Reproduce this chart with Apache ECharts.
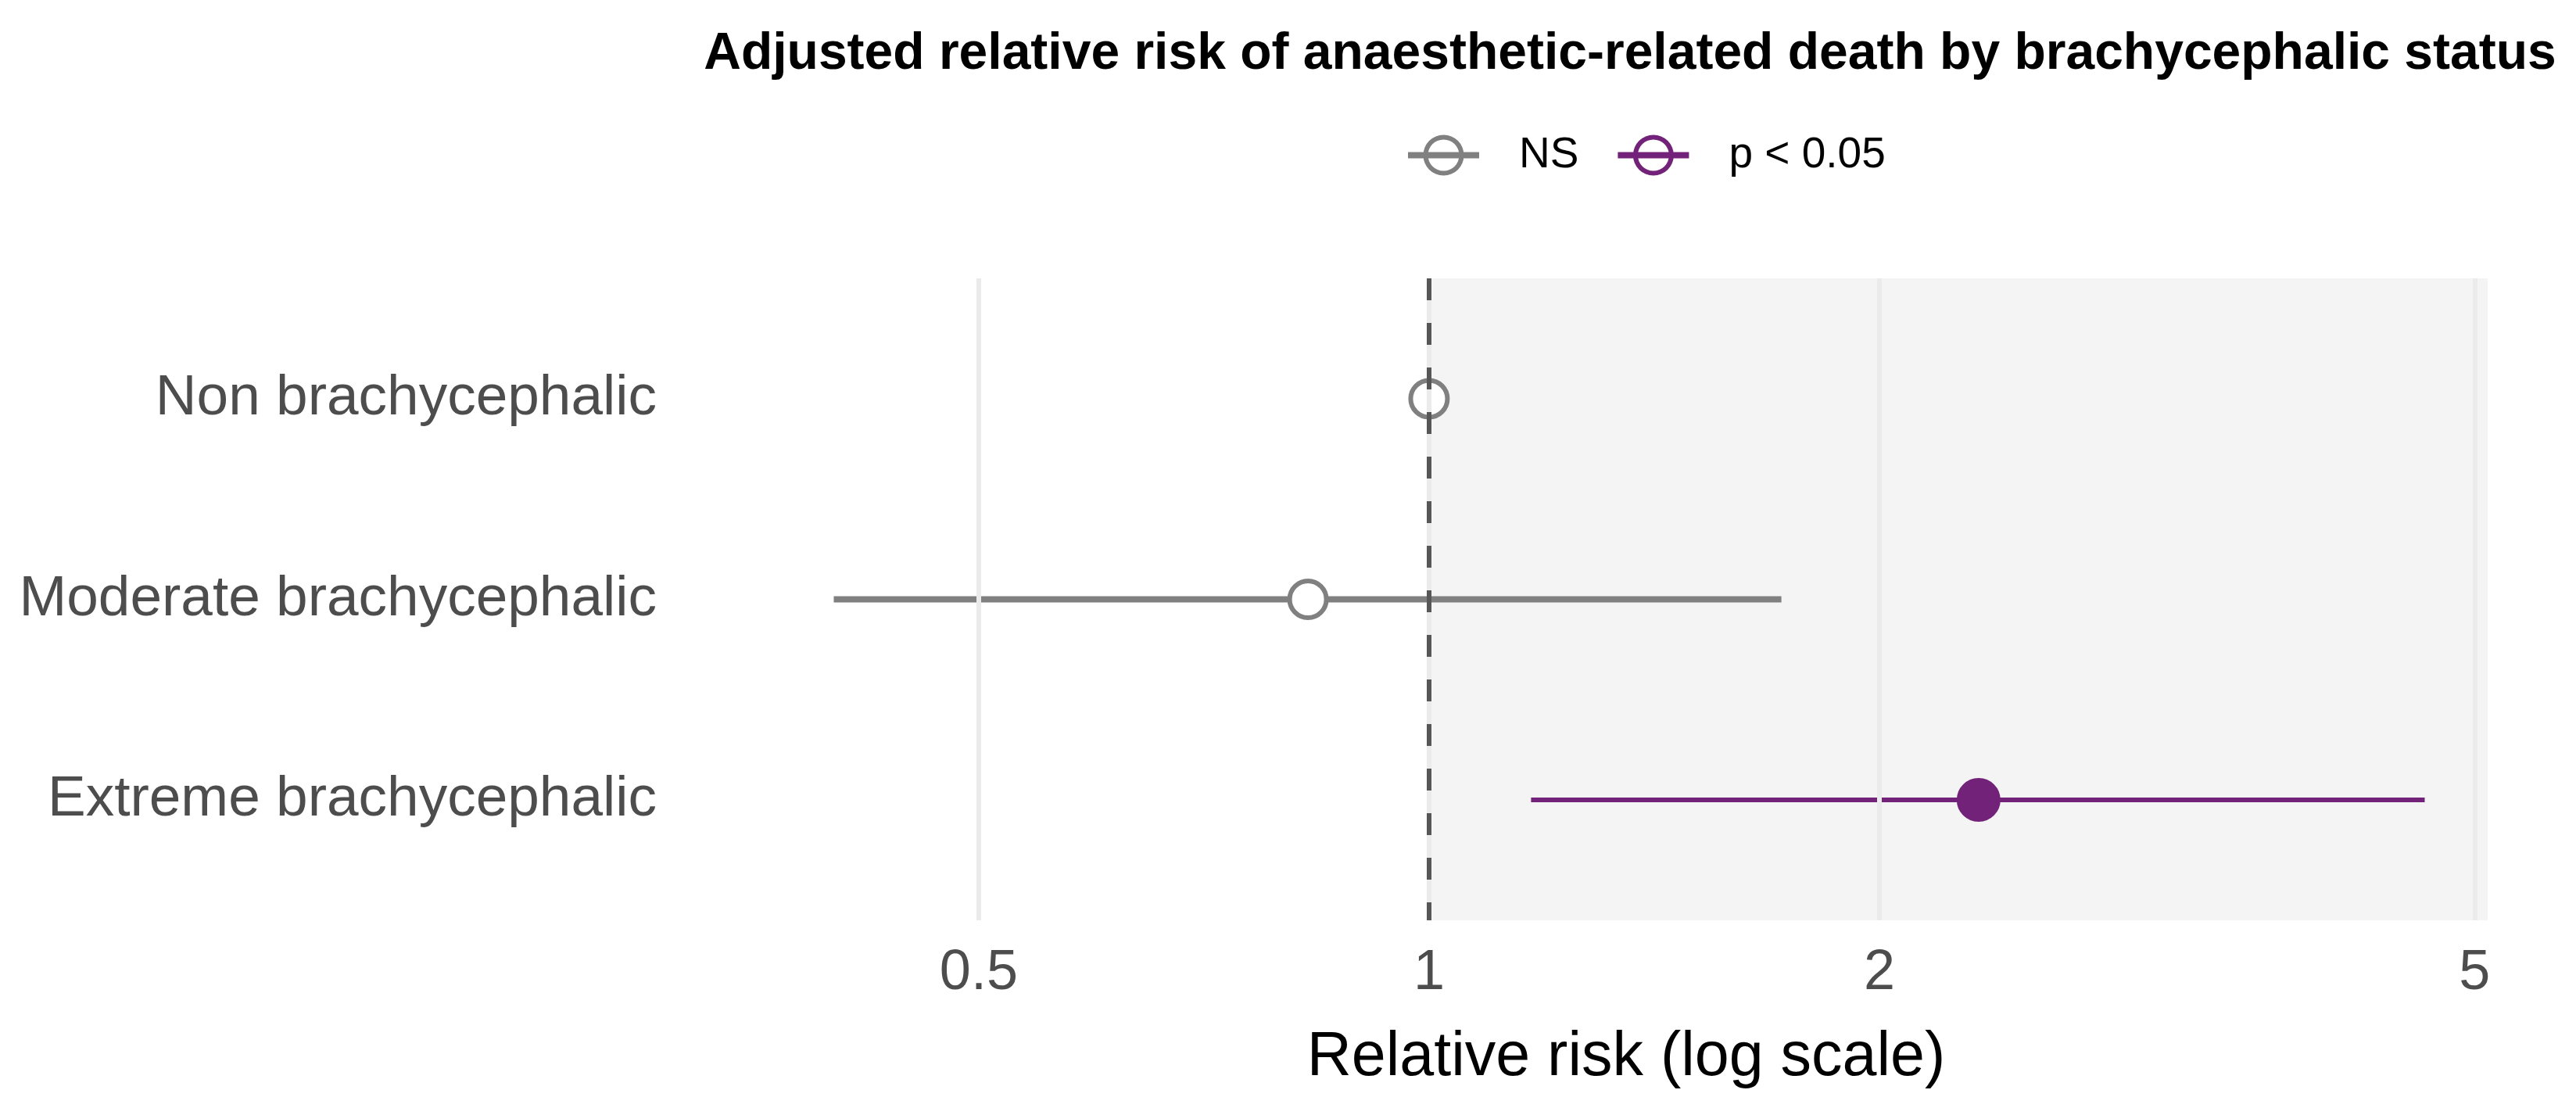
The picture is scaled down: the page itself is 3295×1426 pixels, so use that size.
<!DOCTYPE html>
<html>
<head>
<meta charset="utf-8">
<script src="https://cdn.jsdelivr.net/npm/echarts@6/dist/echarts.min.js"></script>
<style>
html,body{margin:0;padding:0;background:#fff;}
#chart{width:3295px;height:1426px;}
</style>
</head>
<body>
<div id="chart"></div>
<script>
// ---- data ----
const categories = ['Non brachycephalic', 'Moderate brachycephalic', 'Extreme brachycephalic'];
const estimate = [1.00, 0.83, 2.33];
const lower = [null, 0.40, 1.17];
const upper = [null, 1.72, 4.63];
const significance = ['NS', 'NS', 'p < 0.05'];
const groups = ['NS', 'p < 0.05'];
const xTicks = [0.5, 1, 2, 5];
const xTickLabels = ['0.5', '1', '2', '5'];

// ---- styles ----
const FONT = 'Liberation Sans';
const groupColor = { 'NS': '#808080', 'p < 0.05': '#722278' };
const groupFill = { 'NS': '#ffffff', 'p < 0.05': '#722278' };
const groupSize = { 'NS': 47, 'p < 0.05': 51 };
const groupBorder = { 'NS': 6, 'p < 0.05': 5 };
const groupLineW = { 'NS': 8, 'p < 0.05': 6 };
const X_MIN = 0.3596, X_MAX = 5.101;

const legendIcon = 'path://M0,22H91V30H0Z M19.5,26A26,26 0 1,1 71.5,26A26,26 0 1,1 19.5,26Z M25.5,26A20,20 0 1,0 65.5,26A20,20 0 1,0 25.5,26Z';

const series = [];
// gridlines (under shading)
series.push({
  type: 'line', name: '_grid', data: [], z: 1, silent: true,
  markLine: {
    silent: true, symbol: ['none', 'none'], label: { show: false },
    lineStyle: { color: '#ebebeb', width: 6, type: 'solid' },
    emphasis: { disabled: true },
    data: xTicks.map(v => ({ xAxis: v }))
  }
});
// shaded region x >= 1
series.push({
  type: 'line', name: '_shade', data: [], z: 2, silent: true,
  markArea: {
    silent: true,
    itemStyle: { color: 'rgba(240,240,240,0.75)' },
    emphasis: { disabled: true },
    data: [[{ xAxis: 1 }, { xAxis: X_MAX }]]
  }
});

groups.forEach(g => {
  const ciData = [];
  const ptData = [];
  categories.forEach((c, i) => {
    if (significance[i] !== g) return;
    if (lower[i] != null && upper[i] != null) ciData.push([i, lower[i], upper[i]]);
    ptData.push([estimate[i], i]);
  });
  series.push({
    type: 'custom', name: g, z: 3, data: ciData,
    encode: { x: [1, 2], y: 0 },
    renderItem: (params, api) => {
      const y = api.value(0);
      const p1 = api.coord([api.value(1), y]);
      const p2 = api.coord([api.value(2), y]);
      return {
        type: 'line',
        shape: { x1: p1[0], y1: p1[1], x2: p2[0], y2: p2[1] },
        style: { stroke: groupColor[g], lineWidth: groupLineW[g] }
      };
    }
  });
  series.push({
    type: 'scatter', name: g, z: 4, data: ptData,
    symbol: 'circle', symbolSize: groupSize[g],
    itemStyle: { color: groupFill[g], borderColor: groupColor[g], borderWidth: groupBorder[g], opacity: 1 }
  });
});

// reference dashed line at 1
series.push({
  type: 'line', name: '_ref', data: [], z: 10, silent: true,
  markLine: {
    silent: true, symbol: ['none', 'none'], label: { show: false },
    lineStyle: { color: '#575757', width: 6, type: [28, 29] },
    emphasis: { disabled: true },
    data: [{ xAxis: 1 }]
  }
});

const chart = echarts.init(document.getElementById('chart'), null, { renderer: 'canvas', width: 3295, height: 1426, devicePixelRatio: 1 });
chart.setOption({
  animation: false,
  backgroundColor: '#ffffff',
  textStyle: { fontFamily: FONT },
  title: {
    text: 'Adjusted relative risk of anaesthetic-related death by brachycephalic status',
    left: 2080, top: 32, textAlign: 'center',
    textStyle: { fontFamily: FONT, fontSize: 66, fontWeight: 'bold', color: '#000' }
  },
  legend: {
    left: 1796, top: 166, orient: 'horizontal',
    itemWidth: 91, itemHeight: 52, itemGap: 50,
    textStyle: { fontFamily: FONT, fontSize: 55, color: '#000', padding: [0, 0, 0, 46] },
    data: groups.map(g => ({ name: g, icon: legendIcon, itemStyle: { color: groupColor[g], borderWidth: 0, opacity: 1 } }))
  },
  grid: { left: 978, right: 113, top: 356, bottom: 249, containLabel: false },
  xAxis: {
    type: 'log', logBase: 10, min: X_MIN, max: X_MAX,
    name: 'Relative risk (log scale)', nameLocation: 'middle', nameGap: 137,
    nameTextStyle: { fontFamily: FONT, fontSize: 79, color: '#000' },
    axisLine: { show: false }, axisTick: { show: false },
    splitLine: { show: false }, minorSplitLine: { show: false },
    axisLabel: {
      customValues: xTicks, margin: 32,
      fontFamily: FONT, fontSize: 72, color: '#4d4d4d',
      formatter: v => { const k = xTicks.findIndex(t => Math.abs(t - v) < 1e-6); return k >= 0 ? xTickLabels[k] : ''; }
    }
  },
  yAxis: {
    type: 'value', min: -0.6, max: 2.6, inverse: true,
    axisLine: { show: false }, axisTick: { show: false }, splitLine: { show: false },
    axisLabel: {
      customValues: categories.map((c, i) => i), margin: 138,
      fontFamily: FONT, fontSize: 73, color: '#4d4d4d', padding: [8, 0, 0, 0],
      formatter: v => categories[Math.round(v)] || ''
    }
  },
  series: series
});
</script>
</body>
</html>
